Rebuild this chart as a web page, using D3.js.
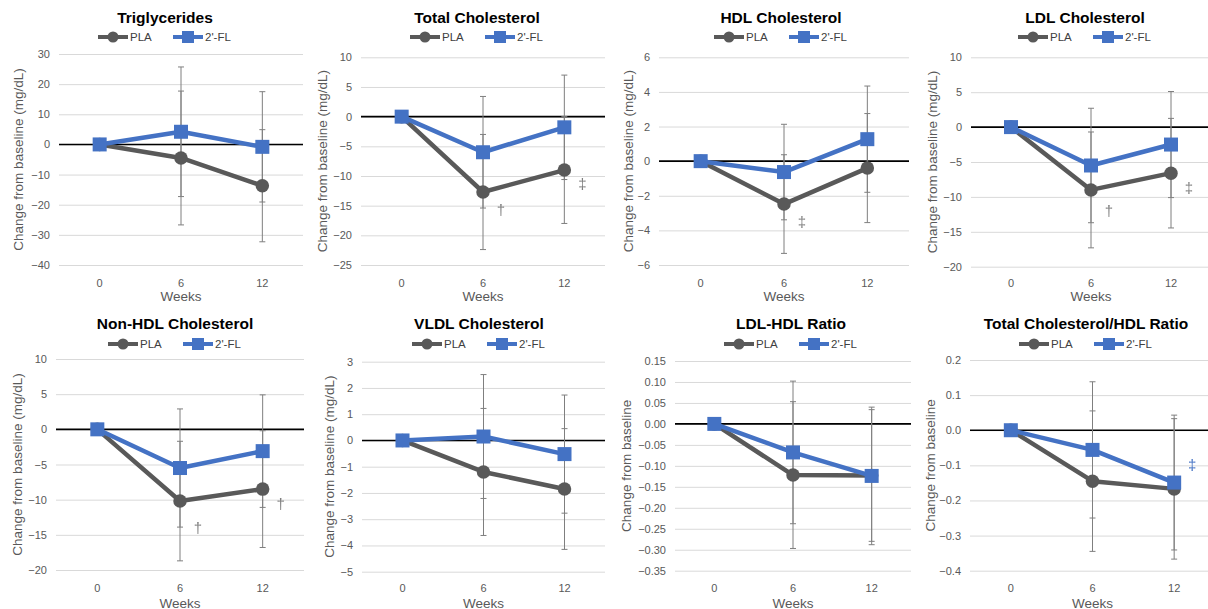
<!DOCTYPE html>
<html>
<head>
<meta charset="utf-8">
<script src="https://cdn.jsdelivr.net/npm/d3@7"></script>
<style>
  body { margin: 0; background: #fff; }
  svg { display: block; font-family: "Liberation Sans", Arial, sans-serif; }
</style>
</head>
<body>
<script>
const W = 1208, H = 609;

// ---- data ----
const weeks = ["0", "6", "12"];
const titles = ["Triglycerides", "Total Cholesterol", "HDL Cholesterol", "LDL Cholesterol",
  "Non-HDL Cholesterol", "VLDL Cholesterol", "LDL-HDL Ratio", "Total Cholesterol/HDL Ratio"];
const yTitles = ["Change from baseline (mg/dL)", "Change from baseline (mg/dL)", "Change from baseline (mg/dL)",
  "Change from baseline (mg/dL)", "Change from baseline (mg/dL)", "Change from baseline (mg/dL)",
  "Change from baseline", "Change from baseline"];
const seriesNames = ["PLA", "2'-FL"];

const yDomains = [[-40, 30], [-25, 10], [-6, 6], [-20, 10], [-20, 10], [-5, 3], [-0.35, 0.15], [-0.4, 0.2]];
const yStep = [10, 5, 2, 5, 5, 1, 0.05, 0.1];
const yDecimals = [0, 0, 0, 0, 0, 0, 2, 1];

const plaMean = [[0, -4.5, -13.7], [0, -12.7, -9.0], [0, -2.48, -0.4], [0, -9.0, -6.6],
  [0, -10.2, -8.5], [0, -1.2, -1.85], [0, -0.122, -0.123], [0, -0.145, -0.167]];
const plaErr = [[0, 22.2, 18.6], [0, 9.7, 9.0], [0, 2.85, 3.15], [0, 8.3, 7.85],
  [0, 8.5, 8.3], [0, 2.42, 2.3], [0, 0.175, 0.157], [0, 0.2, 0.2]];
const flMean = [[0, 4.2, -0.8], [0, -6.0, -1.8], [0, -0.63, 1.27], [0, -5.5, -2.5],
  [0, -5.5, -3.1], [0, 0.15, -0.52], [0, -0.068, -0.124], [0, -0.056, -0.149]];
const flErr = [[0, 21.5, 18.3], [0, 9.4, 8.8], [0, 2.76, 3.07], [0, 8.2, 7.6],
  [0, 8.4, 8.0], [0, 2.36, 2.25], [0, 0.17, 0.164], [0, 0.194, 0.192]];

// significance marks: panel, week, value, symbol, series
const markPanel = [1, 1, 2, 3, 3, 4, 4, 7];
const markWeek = ["6", "12", "6", "6", "12", "6", "12", "12"];
const markValue = [-15.7, -11.2, -3.46, -11.9, -8.6, -13.9, -10.5, -0.099];
const markSymbol = ["†", "‡", "‡", "†", "‡", "†", "†", "‡"];
const markSeries = [0, 0, 0, 0, 0, 0, 0, 1];

// ---- layout (pixel positions of each pasted chart) ----
const layout = [
  {left: 59,  width: 244, top: 54,   bottom: 265,   titleX: 165,  yLabX: 18,  row: 0},
  {left: 361, width: 244, top: 57.3, bottom: 265,   titleX: 477,  yLabX: 322, row: 0},
  {left: 659, width: 250, top: 57.3, bottom: 265,   titleX: 781,  yLabX: 628, row: 0},
  {left: 971, width: 240, top: 57.3, bottom: 266.7, titleX: 1085, yLabX: 932, row: 0},
  {left: 56,  width: 248, top: 359,  bottom: 570,   titleX: 175,  yLabX: 17,  row: 1},
  {left: 362, width: 243, top: 361.7, bottom: 571.7, titleX: 479, yLabX: 329, row: 1},
  {left: 675, width: 236, top: 361,  bottom: 570.7, titleX: 791,  yLabX: 626, row: 1},
  {left: 970, width: 245, top: 360,  bottom: 570.7, titleX: 1086, yLabX: 930, row: 1}
];
const rowY = [
  {title: 17, legend: 37, ticks: 283, weeks: 296},
  {title: 323, legend: 344, ticks: 588, weeks: 603}
];
const colors = ["#595959", "#4472c4"];
const errColor = "#7f7f7f";

const svg = d3.select("body").append("svg")
  .attr("width", W).attr("height", H);

svg.append("rect").attr("width", W).attr("height", H).attr("fill", "#fff");

// plain pass-through filter so the small dagger glyphs get grey antialiasing
svg.append("defs").append("filter").attr("id", "flat")
  .append("feOffset").attr("dx", 0).attr("dy", 0);

function drawMarker(g, kind, x, y, size, color) {
  if (kind === 0) {
    g.append("circle").attr("cx", x).attr("cy", y).attr("r", size / 2).attr("fill", color);
  } else {
    g.append("rect").attr("x", x - size / 2).attr("y", y - size / 2)
      .attr("width", size).attr("height", size).attr("fill", color);
  }
}

titles.forEach(function(title, i) {
  const L = layout[i], R = rowY[L.row];
  const g = svg.append("g");

  const x = d3.scaleBand().domain(weeks).range([L.left, L.left + L.width]);
  const y = d3.scaleLinear().domain(yDomains[i]).range([L.bottom, L.top]);
  const cx = function(w) { return x(w) + x.bandwidth() / 2; };

  // grid + tick labels
  const ticks = d3.range(yDomains[i][0], yDomains[i][1] + yStep[i] / 2, yStep[i]);
  const fmt = d3.format("." + yDecimals[i] + "f");
  const yAxis = d3.axisLeft(y).tickValues(ticks)
    .tickSize(-L.width).tickPadding(9)
    .tickFormat(function(d) { return fmt(Math.abs(d) < 1e-9 ? 0 : d); });
  const ya = g.append("g").attr("transform", "translate(" + L.left + ",0)").call(yAxis);
  ya.select(".domain").remove();
  ya.selectAll("line").attr("stroke", "#d9d9d9").attr("stroke-width", 1);
  ya.selectAll("text").attr("fill", "#595959").style("font-size", "11px");

  // zero line
  g.append("line")
    .attr("x1", L.left).attr("x2", L.left + L.width)
    .attr("y1", y(0)).attr("y2", y(0))
    .attr("stroke", "#000").attr("stroke-width", 1.6);

  // x tick labels
  const xAxis = d3.axisBottom(x).tickSize(0).tickPadding(0);
  const xa = g.append("g").attr("transform", "translate(0," + (R.ticks - 4) + ")").call(xAxis);
  xa.select(".domain").remove();
  xa.selectAll("text").attr("fill", "#595959").style("font-size", "11px").attr("dy", "0.35em").attr("y", 4);

  // axis titles
  g.append("text")
    .attr("x", L.left + L.width / 2).attr("y", R.weeks)
    .attr("text-anchor", "middle").attr("dominant-baseline", "central")
    .attr("fill", "#595959").style("font-size", "13.5px").text("Weeks");
  g.append("text")
    .attr("transform", "translate(" + L.yLabX + "," + ((L.top + L.bottom) / 2) + ") rotate(-90)")
    .attr("text-anchor", "middle").attr("dominant-baseline", "central")
    .attr("fill", "#595959").style("font-size", "13.5px").text(yTitles[i]);

  // chart title
  g.append("text")
    .attr("x", L.titleX).attr("y", R.title)
    .attr("text-anchor", "middle").attr("dominant-baseline", "central")
    .attr("fill", "#000").style("font-size", "15.5px").style("font-weight", "bold").text(title);

  // series
  const means = [plaMean[i], flMean[i]];
  const errs = [plaErr[i], flErr[i]];
  [0, 1].forEach(function(s) {
    const pts = weeks.map(function(w, k) { return {w: w, v: means[s][k], e: errs[s][k]}; });
    // error bars
    pts.filter(function(p) { return p.e > 0; }).forEach(function(p) {
      const px = cx(p.w);
      g.append("line").attr("x1", px).attr("x2", px)
        .attr("y1", y(p.v + p.e)).attr("y2", y(p.v - p.e))
        .attr("stroke", errColor).attr("stroke-width", 1);
      [p.v + p.e, p.v - p.e].forEach(function(v) {
        g.append("line").attr("x1", px - 3).attr("x2", px + 3)
          .attr("y1", y(v)).attr("y2", y(v))
          .attr("stroke", errColor).attr("stroke-width", 1);
      });
    });
  });
  [0, 1].forEach(function(s) {
    const pts = weeks.map(function(w, k) { return {w: w, v: means[s][k]}; });
    g.append("path")
      .attr("d", d3.line().x(function(p) { return cx(p.w); }).y(function(p) { return y(p.v); })(pts))
      .attr("fill", "none").attr("stroke", colors[s]).attr("stroke-width", 4.5)
      .attr("stroke-linejoin", "round");
    pts.forEach(function(p) { drawMarker(g, s, cx(p.w), y(p.v), s === 0 ? 13.5 : 14, colors[s]); });
  });

  // significance marks
  markPanel.forEach(function(pn, m) {
    if (pn !== i) return;
    g.append("text")
      .attr("x", cx(markWeek[m]) + 18).attr("y", y(markValue[m]))
      .attr("text-anchor", "middle").attr("dominant-baseline", "central")
      .attr("fill", markSeries[m] === 1 ? colors[1] : errColor)
      .attr("filter", "url(#flat)")
      .style("font-size", "15px").text(markSymbol[m]);
  });

  // legend
  const lg = g.append("g").attr("transform", "translate(" + (L.titleX - 67) + "," + R.legend + ")");
  let off = 0;
  seriesNames.forEach(function(name, s) {
    lg.append("line").attr("x1", off).attr("x2", off + 30).attr("y1", 0).attr("y2", 0)
      .attr("stroke", colors[s]).attr("stroke-width", 4);
    drawMarker(lg, s, off + 15, 0, s === 0 ? 11 : 12, colors[s]);
    lg.append("text").attr("x", off + 32).attr("y", 0)
      .attr("dominant-baseline", "central").attr("fill", "#404040")
      .style("font-size", "11.5px").text(name);
    off += 75;
  });
});
</script>
</body>
</html>
